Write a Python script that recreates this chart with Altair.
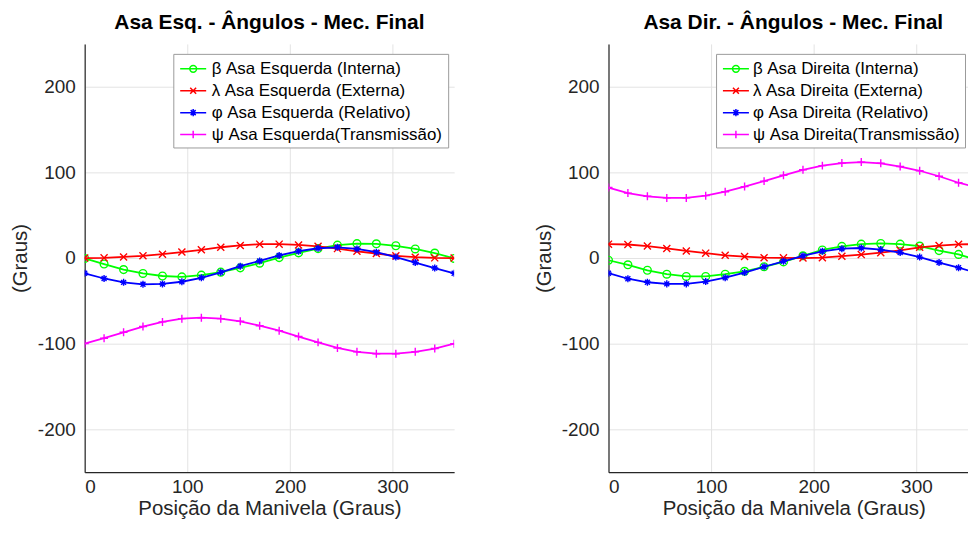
import altair as alt
import pandas as pd

# crank position samples (degrees)
x_deg = [0, 18.9, 37.9, 56.8, 75.8, 94.7, 113.7, 132.6, 151.6, 170.5,
         189.5, 208.4, 227.4, 246.3, 265.3, 284.2, 303.2, 322.1, 341.1, 360]

# left wing (Asa Esquerda)
left_beta = [-0.5, -7, -13.5, -18, -21, -22, -20, -16.5, -11.5, -6,
             0.5, 6, 11, 15, 16.8, 16.6, 14.3, 10.6, 5.8, -0.5]
left_lambda = [0, 0.2, 1.3, 2.6, 4.5, 7, 9.6, 12.6, 14.7, 16.2,
               16.2, 15.3, 13.6, 11, 7.8, 5.3, 2.5, 1, 0.2, 0]
left_phi = [-17.8, -23.9, -28.4, -30.7, -30.3, -27.7, -23.1, -16.7, -9.5, -3.4,
            3, 8, 11.4, 12.5, 10.6, 6.8, 1.1, -5.3, -11.7, -17.8]
left_psi = [-100, -93.6, -86.7, -80, -74.6, -70.8, -69.7, -70.8, -73.9, -79,
            -84.8, -91.7, -98.5, -105, -109.5, -111.7, -111.7, -109.5, -105.7, -100]

# right wing (Asa Direita)
right_beta = [-2.6, -7.9, -14.3, -18.9, -21.5, -21.5, -18.9, -15.5, -10.2, -4.5,
              2.6, 9.4, 13.6, 16.2, 17, 16.2, 14, 8.7, 4.2, -2.6]
right_lambda = [16.2, 15.8, 14, 11.2, 8.3, 5.7, 3.2, 1.7, 0.4, 0.2,
                0, 0.4, 2.1, 4, 6.2, 9, 12.5, 14.6, 16, 16.2]
right_phi = [-17.7, -24.2, -28.3, -30.2, -30.2, -27.5, -23, -17, -10.2, -3.8,
             2.6, 7.9, 10.9, 11.7, 9.8, 6.4, 1.1, -5.3, -11.3, -17.7]
right_psi = [82.3, 75.8, 72.1, 70.2, 70.2, 72.8, 77.4, 83.4, 89.8, 96.6,
             103, 107.9, 110.9, 112, 110.6, 106.8, 101.9, 95.5, 87.9, 82.3]

left_labels = ["β Asa Esquerda (Interna)", "λ Asa Esquerda (Externa)",
               "φ Asa Esquerda (Relativo)", "ψ Asa Esquerda(Transmissão)"]
right_labels = ["β Asa Direita (Interna)", "λ Asa Direita (Externa)",
                "φ Asa Direita (Relativo)", "ψ Asa Direita(Transmissão)"]
titles = ["Asa Esq. - Ângulos - Mec. Final", "Asa Dir. - Ângulos - Mec. Final"]
x_title = "Posição da Manivela (Graus)"
y_title = "(Graus)"
x_ticks = [0, 100, 200, 300]
y_ticks = [-200, -100, 0, 100, 200]

colors = ["#00ff00", "#ff0000", "#0000ff", "#ff00ff"]
marker_shapes = [
    "circle",
    "M-1,-1L1,1M-1,1L1,-1",
    "M-1,0L1,0M0,-1L0,1M-0.7,-0.7L0.7,0.7M-0.7,0.7L0.7,-0.7",
    "M-1,0L1,0M0,-1L0,1",
]
marker_sizes = [60, 50, 50, 64]
# legend glyphs: short line with the series marker in its middle
legend_shapes = [
    "M-0.9,0L2,0M0.93,0A0.38,0.38 0 1 1 0.17,0A0.38,0.38 0 1 1 0.93,0",
    "M-0.9,0L2,0M0.22,-0.33L0.88,0.33M0.22,0.33L0.88,-0.33",
    "M-0.9,0L2,0M0.55,-0.4L0.55,0.4M0.27,-0.28L0.83,0.28M0.27,0.28L0.83,-0.28",
    "M-0.9,0L2,0M0.55,-0.42L0.55,0.42",
]

FONT = "Liberation Sans"
X_MAX_RIGHT = 350.3  # right panel is cut by the page edge
PLOT_H = 430


def panel(series_vals, labels, title, legend_x, label_offset, width, x_max,
          title_dx=0, x_title_pos=None):
    rows = []
    for lab, arr in zip(labels, series_vals):
        for xv, yv in zip(x_deg, arr):
            rows.append({"x": xv, "y": yv, "series": lab})
    df = pd.DataFrame(rows)
    base = alt.Chart(df)

    xaxis_kw = dict(values=x_ticks, title=x_title)
    if x_title_pos is not None:
        xaxis_kw["titleX"] = x_title_pos
    xenc = alt.X("x:Q", scale=alt.Scale(domain=[0, x_max], nice=False, zero=False),
                 axis=alt.Axis(**xaxis_kw))
    yenc = alt.Y("y:Q", scale=alt.Scale(domain=[-250, 250], nice=False, zero=False),
                 axis=alt.Axis(values=y_ticks, title=y_title,
                               labelExpr="toString(datum.value)"))

    layers = []
    for lab, col, shp, sz in zip(labels, colors, marker_shapes, marker_sizes):
        sub = base.transform_filter(alt.datum.series == lab)
        layers.append(sub.mark_line(strokeWidth=1.8, color=col, clip=True)
                      .encode(x=xenc, y=yenc))
        layers.append(sub.mark_point(shape=shp, filled=False, size=sz, strokeWidth=1.4,
                                     opacity=1, color=col, clip=True)
                      .encode(x=xenc, y=yenc))

    leg = alt.Legend(title=None, orient="none", legendX=legend_x, legendY=10,
                     labelFont=FONT, labelFontSize=17, labelColor="#000000",
                     labelLimit=600, symbolSize=324, symbolStrokeWidth=1.5,
                     rowPadding=4, padding=5, labelOffset=label_offset,
                     strokeColor="#9a9a9a", fillColor="#ffffff")
    legend_layer = (
        base.transform_filter("false")
        .mark_point(filled=False, strokeWidth=1.5, opacity=1)
        .encode(x=xenc, y=yenc,
                color=alt.Color("series:N", scale=alt.Scale(domain=labels, range=colors),
                                legend=leg),
                shape=alt.Shape("series:N",
                                scale=alt.Scale(domain=labels, range=legend_shapes),
                                legend=leg)))
    layers.append(legend_layer)

    return alt.layer(*layers).properties(
        width=width, height=PLOT_H,
        title=alt.TitleParams(title, frame="group", anchor="middle", dx=title_dx))


left = panel([left_beta, left_lambda, left_phi, left_psi], left_labels,
             titles[0], 89, 13.5, 371, 360)
right = panel([right_beta, right_lambda, right_phi, right_psi], right_labels,
              titles[1], 108, 12, 361, X_MAX_RIGHT, title_dx=5, x_title_pos=186)

chart = (
    alt.hconcat(left, right, spacing=80)
    .resolve_scale(color="independent", shape="independent")
    .resolve_legend(color="independent", shape="independent")
    .properties(padding={"left": 2, "top": 3, "right": 0, "bottom": 0})
    .configure_view(strokeWidth=0)
    .configure_axis(labelFont=FONT, titleFont=FONT, labelFontSize=19, titleFontSize=20.5,
                    titleFontWeight="normal", labelColor="#262626", titleColor="#262626",
                    gridColor="#e3e3e3", gridWidth=1, domainColor="#262626",
                    domainWidth=1.2, ticks=False)
    .configure_axisX(labelPadding=5, titlePadding=2.5)
    .configure_axisY(labelPadding=9.5, titlePadding=7)
    .configure_title(font=FONT, fontSize=21, fontWeight="bold", color="#000000", offset=11)
)

chart.save("out.html", embed_options={"renderer": "svg", "actions": False})
